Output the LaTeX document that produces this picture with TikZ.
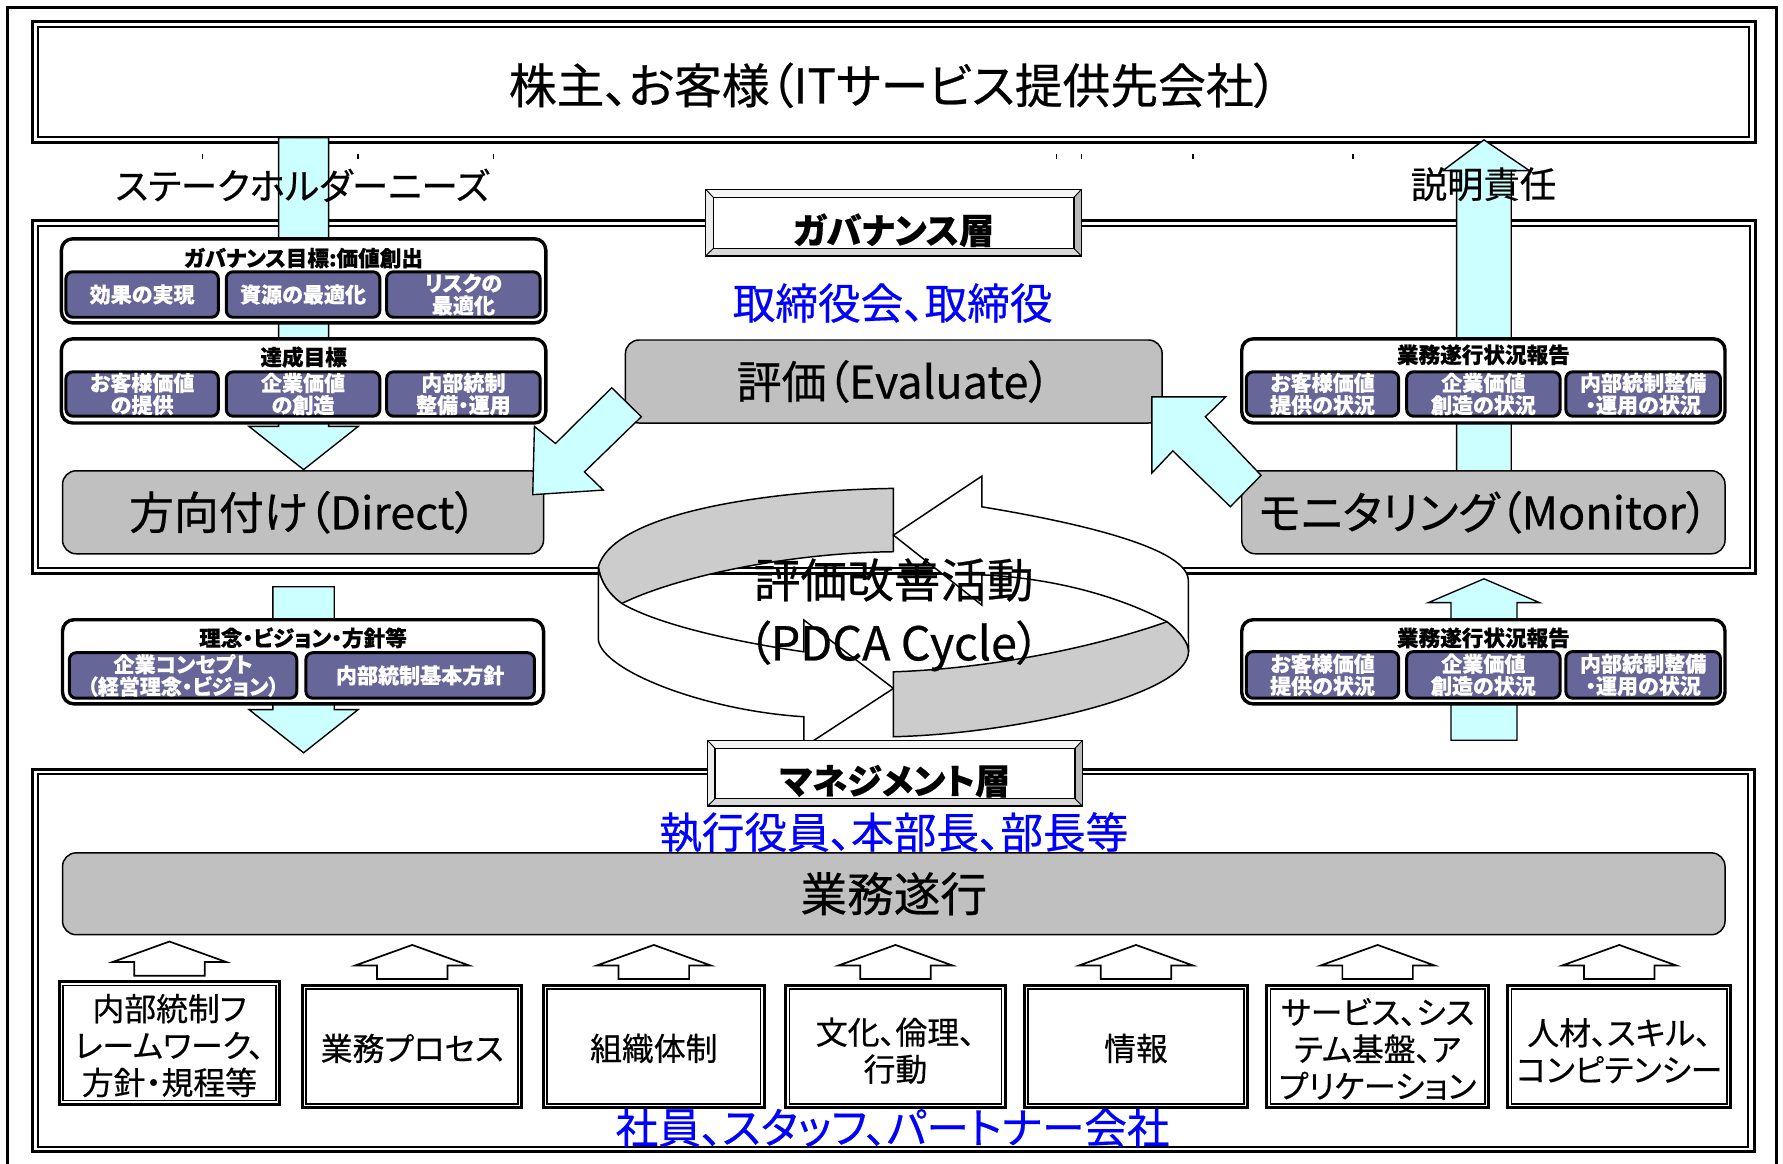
\documentclass[tikz,border=0pt]{standalone}
\usepackage{fontspec}
\setmainfont{Noto Sans CJK JP}[RawFeature=+palt,FakeBold=0.5]
\usetikzlibrary{calc}
\definecolor{arrowcyan}{HTML}{CCFFFF}
\definecolor{purp}{HTML}{666699}
\definecolor{boxgray}{HTML}{C0C0C0}
\definecolor{bandgray}{HTML}{CCCCCC}
\definecolor{txtblue}{HTML}{0000FF}
\newcommand\myfs[2]{\fontsize{#1pt}{#2pt}\selectfont}
\tikzset{
 frameline/.style={draw=black,line width=2.6pt},
 thinline/.style={draw=black,line width=1.5pt},
 cyanarrow/.style={fill=arrowcyan,draw=black,line width=1.2pt,line join=miter},
 whitearrow/.style={fill=white,draw=black,line width=1.5pt,line join=miter},
 graybox/.style={draw=black,fill=boxgray,line width=1.3pt,rounded corners=12pt,inner sep=0pt},
 container/.style={draw=black,fill=white,line width=3pt,rounded corners=10pt,inner sep=0pt},
 purplebox/.style={draw=black,fill=purp,line width=2.6pt,rounded corners=6pt,inner sep=0pt,text=white,font=\myfs{18.5}{19.5}\bfseries,align=center},
 ctitle/.style={font=\myfs{19}{20}\bfseries,inner sep=0pt},
 bigtext/.style={font=\myfs{39.5}{42},inner sep=0pt},
 bluetext/.style={text=txtblue,font=\myfs{37.5}{40},inner sep=0pt},
 pdcagray/.style={fill=bandgray,draw=black,line width=1.3pt,line join=miter},
 pdcawhite/.style={fill=white,draw=black,line width=1.3pt,line join=miter},
 lowbox/.style={draw=black,line width=2.6pt,fill=white,inner sep=0pt},
 lowtext/.style={font=\myfs{28}{32.5},align=center,inner sep=0pt},
 labeltext/.style={font=\myfs{31}{32}\bfseries,inner sep=0pt},
}
\newcommand\mybevel[5]{%
 \coordinate (#1-A) at (#2,#3); \coordinate (#1-B) at (#4,#3);
 \coordinate (#1-C) at (#4,#5); \coordinate (#1-D) at (#2,#5);
 \coordinate (#1-a) at (#2+6.9,#3+7.1); \coordinate (#1-b) at (#4-6.6,#3+7.1);
 \coordinate (#1-c) at (#4-6.6,#5-6.6); \coordinate (#1-d) at (#2+6.9,#5-6.6);
 \fill[gray!8] (#1-A) -- (#1-B) -- (#1-b) -- (#1-a) -- cycle;
 \fill[gray!55] (#1-B) -- (#1-C) -- (#1-c) -- (#1-b) -- cycle;
 \fill[gray!30] (#1-C) -- (#1-D) -- (#1-d) -- (#1-c) -- cycle;
 \fill[gray!14] (#1-D) -- (#1-A) -- (#1-a) -- (#1-d) -- cycle;
 \fill[white] (#1-a) rectangle (#1-c);
 \draw[line width=1.3pt] (#1-A) rectangle (#1-C);
 \draw[line width=1.3pt] (#1-a) rectangle (#1-c);
 \draw[line width=0.8pt] (#1-A) -- (#1-a) (#1-B) -- (#1-b) (#1-C) -- (#1-c) (#1-D) -- (#1-d);
}
\begin{document}
\begin{tikzpicture}[x=1pt,y=-1pt]
\useasboundingbox (0,0) rectangle (1568,1022.8);
\fill[white] (0,0) rectangle (1568,1022.8);
% outer frame
\draw[frameline] (7,6.5) rectangle (1562,1040);
% top box
\draw[frameline] (28.6,19.1) rectangle (1543.5,125.5);
\draw[thinline] (33.7,23.5) rectangle (1538,120.2);
% governance box
\draw[frameline] (28.6,193.5) rectangle (1544,504);
\draw[thinline] (33.4,198.8) rectangle (1538.7,499.6);
% management box
\draw[frameline] (28.5,676.3) rectangle (1542.6,1013);
\draw[thinline] (33.5,680.5) rectangle (1537,1008.5);
% tick marks
\foreach \tx in {178,315,434,929,951,1049,1190}
  \draw[line width=1.3pt] (\tx,135.5) -- (\tx,140);
% vertical cyan arrows
\draw[cyanarrow] (245,121) -- (245,375) -- (219,375) -- (267,413) -- (315,375) -- (289,375) -- (289,121) -- cycle;
\draw[cyanarrow] (240,516) -- (240,624) -- (219,624) -- (267,662) -- (315,624) -- (294,624) -- (294,516) -- cycle;
\draw[cyanarrow] (1281,414) -- (1281,150) -- (1269,150) -- (1305,123) -- (1345,150) -- (1329,150) -- (1329,414) -- cycle;
\draw[cyanarrow] (1276,651) -- (1276,530) -- (1256,530) -- (1305,509) -- (1354,530) -- (1334,530) -- (1334,651) -- cycle;
% title
\node[font=\myfs{42}{44},inner sep=0pt] (shareholders) at (785.5,75) {株主、お客様（ITサービス提供先会社）};
\node[font=\myfs{32}{34},inner sep=0pt] (needs) at (266,163) {ステークホルダーニーズ};
\node[font=\myfs{32}{34},inner sep=0pt] (account) at (1304.6,162) {説明責任};
% containers left
\node[container,minimum width=426pt,minimum height=74pt] (govgoal) at (267,247) {};
\node[ctitle] (govgoalt) at (267,227) {ガバナンス目標:価値創出};
\node[purplebox,minimum width=134pt,minimum height=40pt] (gg1) at (125,259) {効果の実現};
\node[purplebox,minimum width=135pt,minimum height=40pt] (gg2) at (266.5,259) {資源の最適化};
\node[purplebox,minimum width=135pt,minimum height=40pt] (gg3) at (407.5,259) {リスクの\\最適化};
\node[container,minimum width=426pt,minimum height=74pt] (achieve) at (267,335) {};
\node[ctitle] (achievet) at (267,314) {達成目標};
\node[purplebox,minimum width=134pt,minimum height=39pt] (ag1) at (125,346.5) {お客様価値\\の提供};
\node[purplebox,minimum width=135pt,minimum height=39pt] (ag2) at (266.5,346.5) {企業価値\\の創造};
\node[purplebox,minimum width=135pt,minimum height=39pt] (ag3) at (407.5,346.5) {内部統制\\整備・運用};
\node[container,minimum width=423pt,minimum height=74pt] (rinen) at (266.5,582) {};
\node[ctitle] (rinent) at (266.5,561) {理念・ビジョン・方針等};
\node[purplebox,minimum width=200pt,minimum height=40pt] (rg1) at (161,594) {企業コンセプト\\（経営理念・ビジョン）};
\node[purplebox,minimum width=201pt,minimum height=40pt] (rg2) at (369.5,594) {内部統制基本方針};
% containers right
\node[container,minimum width=425pt,minimum height=74pt] (rep1) at (1304.5,335) {};
\node[ctitle] (rep1t) at (1304.5,312) {業務遂行状況報告};
\node[purplebox,minimum width=134pt,minimum height=39pt] (r1a) at (1163,346.5) {お客様価値\\提供の状況};
\node[purplebox,minimum width=135pt,minimum height=39pt] (r1b) at (1304.5,346.5) {企業価値\\創造の状況};
\node[purplebox,minimum width=136pt,minimum height=39pt] (r1c) at (1445,346.5) {内部統制整備\\・運用の状況};
\node[container,minimum width=425pt,minimum height=74pt] (rep2) at (1304.5,582) {};
\node[ctitle] (rep2t) at (1304.5,561) {業務遂行状況報告};
\node[purplebox,minimum width=134pt,minimum height=41pt] (r2a) at (1163,593.5) {お客様価値\\提供の状況};
\node[purplebox,minimum width=135pt,minimum height=41pt] (r2b) at (1304.5,593.5) {企業価値\\創造の状況};
\node[purplebox,minimum width=136pt,minimum height=41pt] (r2c) at (1445,593.5) {内部統制整備\\・運用の状況};
% gray boxes
\node[graybox,minimum width=423pt,minimum height=73pt,bigtext] (direct) at (266.5,450.5) {方向付け（Direct）};
\node[graybox,minimum width=472pt,minimum height=73pt,bigtext] (evaluate) at (786,335.5) {評価（Evaluate）};
\node[graybox,minimum width=425pt,minimum height=73pt,bigtext] (monitor) at (1304.5,450.5) {モニタリング（Monitor）};
\node[graybox,minimum width=1462pt,minimum height=72pt,font=\myfs{41}{44}] (gyomu) at (786,786) {業務遂行};
% diagonal arrows
\draw[cyanarrow] (538,341) -- (564,366.5) -- (514,415) -- (530.5,431) -- (468.5,435) -- (470,375) -- (488.5,390) -- cycle;
\draw[cyanarrow] (1013,349) -- (1078,349) -- (1060,366.5) -- (1109,418) -- (1082,445.6) -- (1031.4,396.5) -- (1013,416) -- cycle;
% PDCA cycle
\path[pdcagray] (785.7,429.5) .. controls (680,431) and (540,450) .. (526.2,498.4)
  .. controls (528,512) and (536,523) .. (546.8,530.7)
  .. controls (600,505) and (700,486) .. (785.7,485.2) -- cycle;
\path[pdcawhite] (526.2,498.4) -- (526.2,562.9) .. controls (530,590) and (620,625) .. (707,630.3)
  -- (707,656.8) -- (785.7,605.4) -- (707,545.3) -- (707,573.2)
  .. controls (650,565) and (580,550) .. (546.8,530.7)
  .. controls (536,523) and (528,512) .. (526.2,498.4) -- cycle;
\path[pdcawhite] (785.7,470.6) -- (863.4,418.7) -- (863.4,445.7)
  .. controls (920,455) and (1044,478) .. (1045,510)
  -- (1045.2,573.2) .. controls (1045,565) and (1038,556) .. (1026.2,546.8)
  .. controls (980,522) and (920,508) .. (863.4,505.5)
  -- (863.4,532.1) -- cycle;
\path[pdcagray] (785.7,590.8) .. controls (870,588) and (960,570) .. (1026.2,546.8)
  .. controls (1038,556) and (1045,565) .. (1045.2,573.2)
  .. controls (1045,610) and (900,645) .. (785.7,647.9) -- cycle;
\node[font=\myfs{41}{44},inner sep=0pt] (pdca1) at (786,510) {評価改善活動};
\node[font=\myfs{41}{44},inner sep=0pt] (pdca2) at (786,568) {（PDCA Cycle）};
% label boxes
\mybevel{gl}{620.5}{166.5}{951}{225}
\node[labeltext] (govlabel) at (786,202.5) {ガバナンス層};
\mybevel{ml}{622}{651}{952}{709}
\node[labeltext] (mgmtlabel) at (787,687) {マネジメント層};
% blue texts
\node[bluetext] (board) at (785,266.5) {取締役会、取締役};
\node[bluetext] (execs) at (786,732) {執行役員、本部長、部長等};
\node[bluetext] (staff) at (785,991.5) {社員、スタッフ、パートナー会社};
% bottom arrows
\foreach \cx/\ty in {149/828,362.5/831,575/831,787.5/831,999/831,1211.5/831,1424/831}
  \draw[whitearrow] (\cx,\ty) -- (\cx+50,\ty+18) -- (\cx+31,\ty+18) -- (\cx+31,\ty+30) -- (\cx-31,\ty+30) -- (\cx-31,\ty+18) -- (\cx-50,\ty+18) -- cycle;
% bottom boxes
\node[lowbox,minimum width=194pt,minimum height=107.5pt] (b1) at (149,917.25) {};
\node[lowbox,minimum width=193pt,minimum height=107.5pt] (b2) at (362.5,920.25) {};
\node[lowbox,minimum width=194pt,minimum height=107.5pt] (b3) at (575,920.25) {};
\node[lowbox,minimum width=193pt,minimum height=107.5pt] (b4) at (787.5,920.25) {};
\node[lowbox,minimum width=196pt,minimum height=107.5pt] (b5) at (999,920.25) {};
\node[lowbox,minimum width=195pt,minimum height=107.5pt] (b6) at (1211.5,920.25) {};
\node[lowbox,minimum width=196pt,minimum height=107.5pt] (b7) at (1424,920.25) {};
\foreach \b in {b1,b2,b3,b4,b5,b6,b7}
  \draw[thinline] ([shift={(4.5,4.5)}]\b.north west) rectangle ([shift={(-4.5,-4.5)}]\b.south east);
\node[lowtext] (t1) at (149,919.5) {内部統制フ\\レームワーク、\\方針・規程等};
\node[lowtext] (t2) at (362.5,922) {業務プロセス};
\node[lowtext] (t3) at (575,922) {組織体制};
\node[lowtext] (t4) at (787.5,924) {文化、倫理、\\行動};
\node[lowtext] (t5) at (999,922) {情報};
\node[lowtext] (t6) at (1211.5,922.5) {サービス、シス\\テム基盤、ア\\プリケーション};
\node[lowtext] (t7) at (1424,924) {人材、スキル、\\コンピテンシー};
\end{tikzpicture}
\end{document}
